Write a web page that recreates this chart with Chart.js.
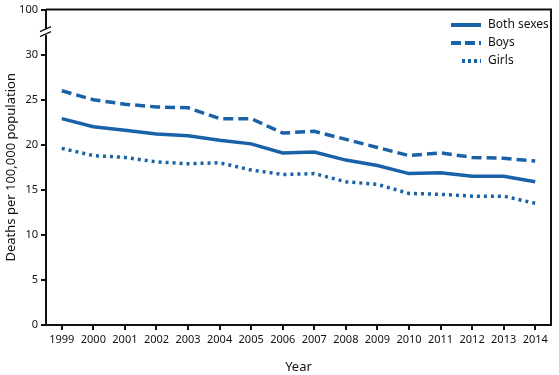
<!DOCTYPE html>
<html>
<head>
<meta charset="utf-8">
<script src="https://cdn.jsdelivr.net/npm/chart.js@4"></script>
<style>
  html, body { margin: 0; padding: 0; background: #fff; }
  #wrap { width: 559px; height: 375px; }
</style>
</head>
<body>
<div id="wrap"><canvas id="chart" width="559" height="375"></canvas></div>
<script>
// data
const years = ["1999","2000","2001","2002","2003","2004","2005","2006","2007","2008","2009","2010","2011","2012","2013","2014"];
const bothSexes = [22.9, 22.0, 21.6, 21.2, 21.0, 20.5, 20.1, 19.1, 19.2, 18.3, 17.7, 16.8, 16.9, 16.5, 16.5, 15.9];
const boys = [26.0, 25.0, 24.5, 24.2, 24.1, 22.9, 22.9, 21.3, 21.5, 20.6, 19.7, 18.8, 19.1, 18.6, 18.5, 18.2];
const girls = [19.6, 18.8, 18.6, 18.1, 17.9, 18.0, 17.2, 16.7, 16.8, 15.9, 15.6, 14.6, 14.5, 14.3, 14.3, 13.5];
const yTicks = [0, 5, 10, 15, 20, 25, 30, 35];
const yTickLabels = ["0", "5", "10", "15", "20", "25", "30", "100"];

const blue = "#1a62a8";
const FONT = "'Noto Sans', sans-serif";

// frame, axis break and legend
const extras = {
  id: "extras",
  afterDraw(chart) {
    const ctx = chart.ctx;
    const a = chart.chartArea;
    ctx.save();
    ctx.strokeStyle = "#111";
    ctx.lineWidth = 2;
    ctx.beginPath();
    ctx.moveTo(a.left, a.top);
    ctx.lineTo(a.right, a.top);
    ctx.lineTo(a.right, a.bottom);
    ctx.stroke();

    // broken y axis between 30 and 100
    const yb = chart.scales.y.getPixelForValue(32.5);
    ctx.fillStyle = "#fff";
    ctx.fillRect(a.left - 4, yb - 3, 8, 6);
    ctx.lineWidth = 1.2;
    ctx.beginPath();
    ctx.moveTo(a.left - 6, yb - 0.5);
    ctx.lineTo(a.left + 5, yb - 5.5);
    ctx.moveTo(a.left - 6, yb + 4.5);
    ctx.lineTo(a.left + 5, yb - 0.5);
    ctx.stroke();

    // legend
    const items = [
      { label: "Both sexes", dash: [], x0: 451, y: 25 },
      { label: "Boys", dash: [10, 4], x0: 451, y: 43 },
      { label: "Girls", dash: [3, 3], x0: 462, y: 61 }
    ];
    ctx.font = "12px " + FONT;
    ctx.textBaseline = "middle";
    items.forEach(it => {
      ctx.strokeStyle = blue;
      ctx.lineWidth = 4;
      ctx.setLineDash(it.dash);
      ctx.beginPath();
      ctx.moveTo(it.x0, it.y);
      ctx.lineTo(481, it.y);
      ctx.stroke();
      ctx.setLineDash([]);
      ctx.fillStyle = "#111";
      ctx.fillText(it.label, 488, it.y);
    });
    ctx.restore();
  }
};

new Chart(document.getElementById("chart"), {
  type: "line",
  data: {
    labels: years,
    datasets: [
      { label: "Both sexes", data: bothSexes, borderColor: blue, borderWidth: 3.5, pointRadius: 0, tension: 0 },
      { label: "Boys", data: boys, borderColor: blue, borderWidth: 3.5, borderDash: [10, 5], pointRadius: 0, tension: 0 },
      { label: "Girls", data: girls, borderColor: blue, borderWidth: 3.5, borderDash: [3, 4], pointRadius: 0, tension: 0 }
    ]
  },
  options: {
    responsive: false,
    animation: false,
    layout: { padding: { top: 9, right: 8, left: 0, bottom: 0 } },
    plugins: { legend: { display: false }, tooltip: { enabled: false } },
    scales: {
      x: {
        offset: true,
        grid: { offset: false, drawOnChartArea: false, drawTicks: true, tickLength: 5, color: "#111", lineWidth: 2 },
        border: { color: "#111", width: 2 },
        ticks: { color: "#111", font: { family: FONT, size: 11 }, padding: 3, maxRotation: 0, autoSkip: false },
        title: { display: true, text: "Year", color: "#111", font: { family: FONT, size: 13 }, padding: { top: 11, bottom: 0 } },
        afterFit(s) { s.height = 50; }
      },
      y: {
        min: 0,
        max: 35,
        afterBuildTicks(s) { s.ticks = yTicks.map(v => ({ value: v })); },
        grid: { drawOnChartArea: false, drawTicks: true, tickLength: 5, color: "#111", lineWidth: 2 },
        border: { color: "#111", width: 2 },
        ticks: {
          color: "#111",
          font: { family: FONT, size: 11 },
          padding: 3,
          callback(v) { return yTickLabels[yTicks.indexOf(v)]; }
        },
        title: { display: true, text: "Deaths per 100,000 population", color: "#111", font: { family: FONT, size: 13 }, padding: { top: 3, bottom: 2 } },
        afterFit(s) { s.width = 46; }
      }
    }
  },
  plugins: [extras]
});
</script>
</body>
</html>
